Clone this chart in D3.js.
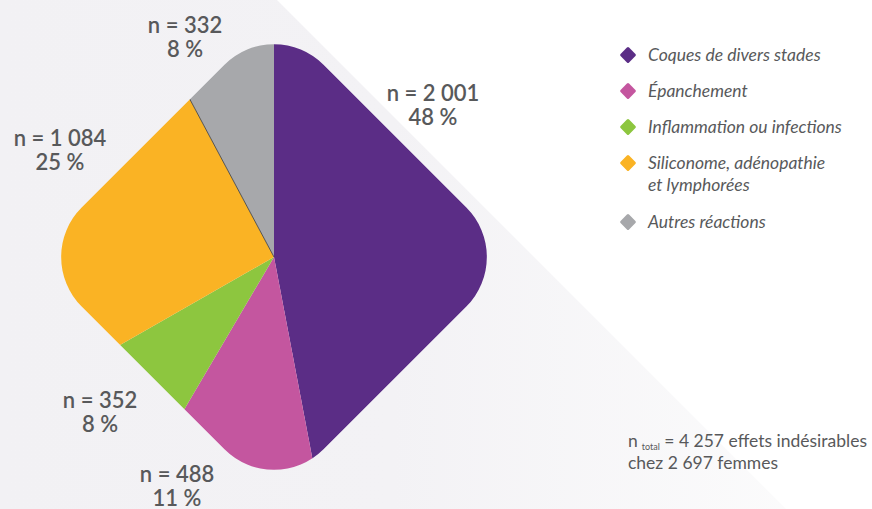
<!DOCTYPE html>
<html>
<head>
<meta charset="utf-8">
<script src="https://cdn.jsdelivr.net/npm/d3@7"></script>
<style>
  body { margin: 0; background: #ffffff; }
  svg { display: block; }
</style>
</head>
<body>
<div class="chart"></div>
<script>
var svgWidth = 872;
var svgHeight = 509;

// data
var categories = ["Coques de divers stades", "Épanchement", "Inflammation ou infections",
  "Siliconome, adénopathie|et lymphorées", "Autres réactions"];
var counts = [2001, 488, 352, 1084, 332];
var countLabels = ["n = 2 001", "n = 488", "n = 352", "n = 1 084", "n = 332"];
var percentLabels = ["48 %", "11 %", "8 %", "25 %", "8 %"];
var colors = ["#5b2d86", "#c4569f", "#8dc63f", "#fab324", "#a7a8ab"];

var textColor = "#58595b";
var cx = 274, cy = 257;

var svg = d3.select(".chart")
  .append("svg")
  .attr("width", svgWidth)
  .attr("height", svgHeight);

var defs = svg.append("defs");

// background gradient, grey on the left fading to white at the right
var grad = defs.append("linearGradient")
  .attr("id", "bgGrad")
  .attr("gradientUnits", "userSpaceOnUse")
  .attr("x1", 0).attr("y1", 0).attr("x2", svgWidth).attr("y2", 0);
grad.append("stop").attr("offset", "0%").attr("stop-color", "#f2f1f4");
grad.append("stop").attr("offset", "45%").attr("stop-color", "#f3f2f5");
grad.append("stop").attr("offset", "100%").attr("stop-color", "#fdfdfd");

svg.append("rect")
  .attr("width", svgWidth)
  .attr("height", svgHeight)
  .attr("fill", "#ffffff");

svg.append("path")
  .attr("d", "M0,0 L277,0 L786,509 L0,509 Z")
  .attr("fill", "url(#bgGrad)");

// rounded diamond used to clip the pie
var half = 171, corner = 70;
defs.append("clipPath")
  .attr("id", "diamondClip")
  .append("rect")
  .attr("x", -half)
  .attr("y", -half)
  .attr("width", half * 2)
  .attr("height", half * 2)
  .attr("rx", corner)
  .attr("ry", corner)
  .attr("transform", "rotate(45)");

var chart = svg.append("g")
  .attr("transform", "translate(" + cx + "," + cy + ")");

var pie = d3.pie().sort(null).value(function(d) { return d; });
var arcs = pie(counts);

var arc = d3.arc().innerRadius(0).outerRadius(300);

var pieGroup = chart.append("g").attr("clip-path", "url(#diamondClip)");

pieGroup.selectAll("path")
  .data(arcs)
  .enter()
  .append("path")
  .attr("d", arc)
  .attr("fill", function(d, i) { return colors[i]; });

// thin dark line between the grey and orange slices
var a = arcs[4].startAngle;
pieGroup.append("line")
  .attr("x1", 0).attr("y1", 0)
  .attr("x2", 300 * Math.sin(a))
  .attr("y2", -300 * Math.cos(a))
  .attr("stroke", "#3a3a3a")
  .attr("stroke-width", 0.8);

// slice labels
var labelPos = [[433, 101], [177, 482], [100, 408], [60, 146], [185, 33]];

var labels = svg.selectAll(".slice-label")
  .data(arcs)
  .enter()
  .append("text")
  .attr("class", "slice-label")
  .attr("text-anchor", "middle")
  .attr("fill", textColor)
  .style("font-family", "Lato, 'Open Sans', sans-serif")
  .style("font-size", "22px")
  .style("font-weight", "600")
  .attr("x", function(d, i) { return labelPos[i][0]; })
  .attr("y", function(d, i) { return labelPos[i][1]; });

labels.append("tspan")
  .text(function(d, i) { return countLabels[i]; });
labels.append("tspan")
  .attr("x", function(d, i) { return labelPos[i][0]; })
  .attr("dy", 24)
  .text(function(d, i) { return percentLabels[i]; });

// legend
var legendY = [55, 91, 127, 163, 222];
var legend = svg.append("g").attr("class", "legend");

var items = legend.selectAll("g")
  .data(categories)
  .enter()
  .append("g")
  .attr("transform", function(d, i) { return "translate(628," + legendY[i] + ")"; });

items.append("rect")
  .attr("x", -6).attr("y", -6)
  .attr("width", 12).attr("height", 12)
  .attr("rx", 1.5)
  .attr("transform", "rotate(45)")
  .attr("fill", function(d, i) { return colors[i]; });

items.append("text")
  .attr("fill", textColor)
  .style("font-family", "Lato, 'Open Sans', sans-serif")
  .style("font-size", "17.5px")
  .style("font-style", "italic")
  .attr("y", 6)
  .each(function(d) {
    var lines = d.split("|");
    var t = d3.select(this);
    lines.forEach(function(line, k) {
      t.append("tspan")
        .attr("x", 20)
        .attr("dy", k === 0 ? 0 : 22)
        .text(line);
    });
  });

// total note
var note = svg.append("text")
  .attr("fill", textColor)
  .style("font-family", "Lato, 'Open Sans', sans-serif")
  .style("font-size", "17.5px")
  .attr("x", 628)
  .attr("y", 447);
note.append("tspan").text("n");
note.append("tspan").style("font-size", "9px").attr("dx", 4).attr("dy", 3).text("total");
note.append("tspan").attr("dy", -3).text(" = 4 257 effets indésirables");
svg.append("text")
  .attr("fill", textColor)
  .style("font-family", "Lato, 'Open Sans', sans-serif")
  .style("font-size", "17.5px")
  .attr("x", 628)
  .attr("y", 469)
  .text("chez 2 697 femmes");
</script>
</body>
</html>
